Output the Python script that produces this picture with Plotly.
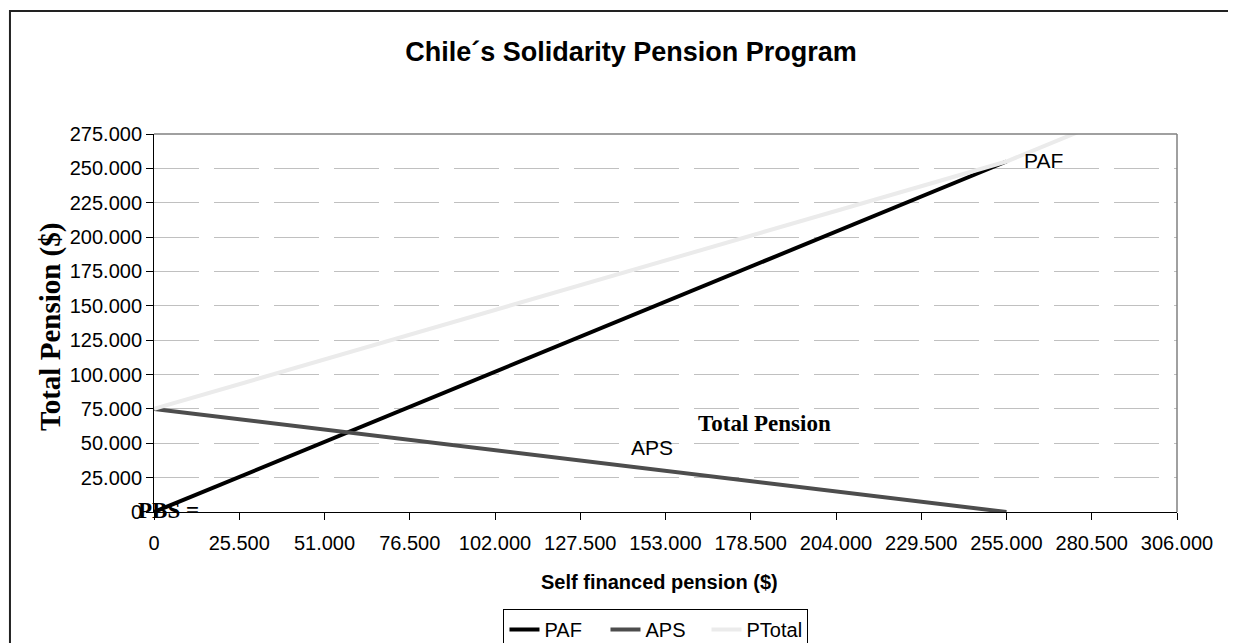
import plotly.graph_objects as go

# ---- data ----
x_self = [0, 25500, 51000, 76500, 102000, 127500, 153000, 178500, 204000, 229500, 255000, 280500]
paf = [0, 25500, 51000, 76500, 102000, 127500, 153000, 178500, 204000, 229500, 255000, None]
aps = [75000, 67500, 60000, 52500, 45000, 37500, 30000, 22500, 15000, 7500, 0, None]
ptotal = [75000, 93000, 111000, 129000, 147000, 165000, 183000, 201000, 219000, 237000, 255000, 280500]

x_ticks = [0, 25500, 51000, 76500, 102000, 127500, 153000, 178500, 204000, 229500, 255000, 280500, 306000]
y_ticks = [0, 25000, 50000, 75000, 100000, 125000, 150000, 175000, 200000, 225000, 250000, 275000]

fig = go.Figure()
fig.add_trace(go.Scatter(x=x_self, y=paf, name="PAF", mode="lines",
                         line=dict(color="#000000", width=4)))
fig.add_trace(go.Scatter(x=x_self, y=aps, name="APS", mode="lines",
                         line=dict(color="#4d4d4d", width=4)))
fig.add_trace(go.Scatter(x=x_self, y=ptotal, name="PTotal", mode="lines",
                         line=dict(color="#ebebeb", width=4)))

ARIAL = "Arial, Liberation Sans, sans-serif"
TIMES = "Times New Roman, Liberation Serif, serif"

fig.update_layout(
    width=1228, height=635,
    margin=dict(l=146, r=59, t=126, b=131, autoexpand=False),
    paper_bgcolor="white", plot_bgcolor="white",
    separators=",.",
    showlegend=True,
    title=dict(text="<b>Chile´s Solidarity Pension Program</b>", x=623/1228, xref="container",
               y=1-44/635, yref="container", xanchor="center", yanchor="middle",
               font=dict(family=ARIAL, size=27, color="black")),
    legend=dict(orientation="h", x=0.4907, xanchor="center", y=-0.2566, yanchor="top",
                bordercolor="black", borderwidth=1, bgcolor="white",
                font=dict(family=ARIAL, size=20, color="black"),
                tracegroupgap=0, itemwidth=30, entrywidth=56, entrywidthmode="pixels"),
    xaxis=dict(range=[0, 306000], tickvals=x_ticks, tickformat=",d",
               showgrid=False, zeroline=False,
               showline=True, linecolor="black", linewidth=1,
               ticks="outside", ticklen=7, tickcolor="black", tickwidth=1,
               ticklabelstandoff=6,
               tickfont=dict(family=ARIAL, size=20, color="black")),
    yaxis=dict(range=[0, 275000], tickvals=y_ticks, tickformat=",d",
               showgrid=True, gridcolor="#c0c0c0", gridwidth=1, griddash="45px,15px",
               zeroline=False,
               showline=True, linecolor="black", linewidth=1,
               ticks="outside", ticklen=7, tickcolor="black", tickwidth=1,
               tickfont=dict(family=ARIAL, size=20, color="black")),
    shapes=[
        dict(type="line", xref="paper", yref="paper", x0=0, x1=1, y0=1, y1=1,
             line=dict(color="#808080", width=1.5)),
        dict(type="line", xref="paper", yref="paper", x0=1, x1=1, y0=0, y1=1,
             line=dict(color="#808080", width=1.5)),
        dict(type="rect", xref="paper", yref="paper", x0=-0.1408, x1=1.081,
             y0=-0.497, y1=1.3254, line=dict(color="#222222", width=2)),
    ],
    annotations=[
        dict(text="<b>Total Pension ($)</b>", xref="paper", yref="paper", x=-0.1017, y=0.4894,
             textangle=-90, showarrow=False, xanchor="center", yanchor="middle",
             font=dict(family=TIMES, size=29, color="black")),
        dict(text="<b>Self financed pension ($)</b>", xref="paper", yref="paper", x=0.4946, y=-0.1852,
             showarrow=False, xanchor="center", yanchor="middle",
             font=dict(family=ARIAL, size=20, color="black")),
        dict(text="PAF", xref="x", yref="y", x=265920, y=256080, showarrow=False,
             xanchor="center", yanchor="middle", font=dict(family=ARIAL, size=21, color="black")),
        dict(text="APS", xref="x", yref="y", x=148960, y=47290, showarrow=False,
             xanchor="center", yanchor="middle", font=dict(family=ARIAL, size=21, color="black")),
        dict(text="<b>Total Pension</b>", xref="x", yref="y", x=182760, y=64750, showarrow=False,
             xanchor="center", yanchor="middle", font=dict(family=TIMES, size=23, color="black")),
        dict(text="<b>PBS =</b>", xref="x", yref="y", x=4190, y=1455, showarrow=False,
             xanchor="center", yanchor="middle", font=dict(family=TIMES, size=23, color="black")),
    ],
)

fig.write_html("out.html")
